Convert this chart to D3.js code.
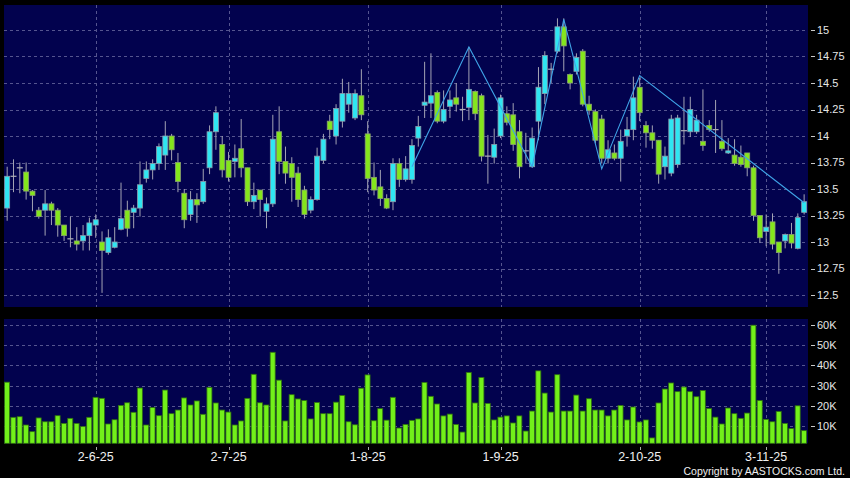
<!DOCTYPE html>
<html>
<head>
<meta charset="utf-8">
<script src="https://cdn.jsdelivr.net/npm/d3@7"></script>
<style>
body { margin:0; background:#000; }
text { font-family: "Liberation Sans", Arial, sans-serif; }
</style>
</head>
<body>
<div id="vis"></div>
<script>
// daily OHLC, one entry per trading day (13-5-25 .. 11-11-25)
var open = [13.32,13.62,13.70,13.66,13.48,13.30,13.30,13.36,13.30,13.16,
	13.03,13.01,13.01,13.06,13.16,13.00,12.90,12.95,13.12,13.30,
	13.28,13.32,13.60,13.68,13.74,13.82,14.00,13.75,13.46,13.26,
	13.40,13.38,13.70,14.04,13.92,13.77,13.76,13.88,13.70,13.38,
	13.49,13.29,13.36,14.04,13.76,13.74,13.65,13.49,13.30,13.40,
	13.77,14.14,14.00,14.14,14.30,14.17,14.38,14.02,13.61,13.52,
	13.41,13.38,13.74,13.59,13.59,13.98,14.29,14.31,14.41,14.14,
	14.28,14.36,14.25,14.27,14.42,14.38,13.81,13.80,14.00,14.21,
	14.20,14.04,13.86,13.71,14.14,14.40,14.63,14.80,15.03,14.58,
	14.61,14.80,14.30,14.23,14.16,13.79,13.84,13.79,14.00,14.06,
	14.46,14.10,14.03,13.96,13.71,13.65,13.73,14.05,14.04,14.04,
	13.95,14.10,14.06,13.95,13.84,13.82,13.80,13.84,13.70,13.25,
	13.10,13.19,13.00,13.01,13.07,12.94,13.28];
var high = [13.71,13.78,13.75,13.75,13.49,13.33,13.49,13.38,13.32,13.16,
	13.24,13.14,13.16,13.23,13.26,13.10,13.12,13.14,13.56,13.39,
	13.35,13.76,13.76,13.78,13.93,14.14,14.02,13.84,13.50,13.48,
	13.46,13.69,14.10,14.28,14.00,13.85,13.92,14.16,13.70,13.56,
	13.49,13.42,14.20,14.28,13.90,13.80,13.71,13.53,13.43,13.89,
	14.02,14.20,14.30,14.54,14.51,14.44,14.63,14.14,13.75,13.68,
	13.45,13.79,13.79,13.81,13.97,14.19,14.70,14.78,14.43,14.43,
	14.43,14.50,14.37,14.84,14.43,14.40,14.01,14.07,14.39,14.28,
	14.31,14.15,14.03,14.08,14.65,14.80,14.69,15.11,15.11,14.59,
	14.78,14.82,14.38,14.25,14.20,13.96,13.92,14.06,14.18,14.56,
	14.55,14.14,14.10,13.96,13.90,14.20,14.20,14.37,14.37,14.20,
	14.44,14.15,14.34,14.15,13.98,13.97,13.91,13.84,13.72,13.25,
	13.26,13.27,13.00,13.08,13.18,13.27,13.45];
var low = [13.20,13.47,13.46,13.40,13.29,13.22,13.06,13.16,13.05,13.01,
	12.95,12.92,12.92,12.92,13.04,12.52,12.88,12.94,13.11,13.05,
	13.13,13.24,13.56,13.59,13.68,13.68,13.77,13.47,13.13,13.20,
	13.18,13.36,13.64,13.87,13.61,13.57,13.61,13.61,13.34,13.31,
	13.24,13.13,13.33,13.64,13.55,13.38,13.33,13.22,13.27,13.39,
	13.74,13.97,13.92,14.08,14.22,14.15,14.15,13.47,13.44,13.34,
	13.31,13.30,13.52,13.57,13.55,13.90,14.17,14.17,14.12,14.12,
	14.17,14.23,14.14,14.15,14.15,13.76,13.55,13.74,13.98,14.10,
	13.86,13.60,13.74,13.70,13.96,14.30,14.50,14.78,14.61,14.44,
	14.58,14.28,14.20,13.93,13.74,13.74,13.77,13.57,13.90,13.96,
	14.14,13.89,13.88,13.55,13.59,13.62,13.70,13.92,13.99,14.02,
	13.86,14.04,13.84,13.86,13.83,13.72,13.71,13.62,13.20,12.99,
	12.96,12.93,12.70,12.94,12.94,12.93,13.26];
var close = [13.62,13.62,13.70,13.48,13.44,13.24,13.36,13.30,13.16,13.06,
	13.03,12.98,13.06,13.18,13.21,12.92,13.04,13.00,13.22,13.13,
	13.32,13.54,13.68,13.74,13.90,14.00,13.87,13.57,13.21,13.40,
	13.35,13.57,14.04,14.22,13.68,13.61,13.79,13.70,13.38,13.44,
	13.40,13.36,13.97,13.76,13.65,13.61,13.40,13.26,13.40,13.81,
	13.97,14.06,14.26,14.40,14.40,14.40,14.20,13.60,13.49,13.41,
	13.32,13.74,13.59,13.69,13.91,14.09,14.32,14.38,14.14,14.25,
	14.34,14.30,14.25,14.44,14.21,13.81,13.81,13.92,14.36,14.13,
	13.92,13.71,13.86,13.98,14.46,14.76,14.63,15.03,14.85,14.50,
	14.74,14.30,14.24,13.96,13.79,13.87,13.79,13.95,14.06,14.36,
	14.22,14.03,13.96,13.64,13.81,14.16,14.17,14.05,14.25,14.15,
	13.91,14.06,14.06,13.88,13.86,13.74,13.73,13.70,13.25,13.04,
	13.14,12.98,12.90,13.07,12.99,13.23,13.38];
// volume in thousands of shares
var volK = [31.7,14.3,14.6,10.5,7.2,14.0,12.1,12.1,15.1,11.3,
	13.8,11.3,9.7,14.3,24.2,23.7,11.0,13.1,20.2,21.5,
	16.8,28.8,10.5,19.1,15.1,27.8,16.1,17.9,23.9,20.4,
	22.4,15.8,29.1,21.4,17.9,16.9,10.5,12.5,23.7,35.6,
	21.5,20.4,46.5,32.7,12.5,25.5,23.4,22.6,13.5,21.6,
	16.1,16.1,21.8,25.1,12.1,10.6,28.7,35.3,12.6,18.6,
	12.9,24.2,9.0,10.8,12.8,13.5,31.6,24.7,20.9,15.0,
	15.9,10.8,7.0,36.5,21.4,34.0,21.2,13.0,14.4,15.0,
	11.5,15.0,7.5,17.4,37.3,26.3,16.9,35.4,17.4,17.4,
	25.3,17.4,23.5,17.9,17.9,15.0,17.9,20.2,13.0,19.4,
	12.0,13.0,4.1,21.4,28.3,31.3,27.0,29.3,27.0,24.5,
	27.6,18.6,14.4,11.0,18.9,16.1,13.8,16.4,59.9,22.6,
	13.3,12.1,17.2,11.3,8.7,20.0,7.7];

// month ticks (index of first trading day of the month)
var dateIdx = [14, 35, 57, 78, 100, 120];
var dateLabels = ["2-6-25", "2-7-25", "1-8-25", "1-9-25", "2-10-25", "3-11-25"];

var priceTicks = [12.5, 12.75, 13, 13.25, 13.5, 13.75, 14, 14.25, 14.5, 14.75, 15];
var volTicks = [10, 20, 30, 40, 50, 60];

// zigzag pivots
var zzIdx = [64, 73, 83, 88, 94, 100, 126];
var zzPrice = [13.71, 14.84, 13.71, 15.10, 13.69, 14.57, 13.37];

// Layout Settings
var width = 850, height = 478;
var plotL = 4, plotR = 808;
var priceTop = 5, priceBot = 307;
var volTop = 319, volBot = 443.3;

var svg = d3.select("#vis")
	.append("svg")
	.attr("width", width)
	.attr("height", height)
	.style("background", "#000");

var N = open.length;
var x = d3.scaleBand()
	.domain(d3.range(N))
	.range([plotL, 807.3]);
var step = x.step();
function cx(i) { return x(i) + step / 2; }

var y = d3.scaleLinear().domain([12.5, 15]).range([295, 30]);
var yv = d3.scaleLinear().domain([10, 60]).range([426, 325]);

// panels
svg.append("rect").attr("x", plotL).attr("y", priceTop)
	.attr("width", plotR - plotL).attr("height", priceBot - priceTop)
	.attr("fill", "#02024e");
svg.append("rect").attr("x", plotL).attr("y", volTop)
	.attr("width", plotR - plotL).attr("height", volBot - volTop)
	.attr("fill", "#02024e");

var gridColor = "#55558f";

// horizontal grid
svg.append("g").selectAll("line")
	.data(priceTicks).enter().append("line")
	.attr("x1", plotL).attr("x2", plotR)
	.attr("y1", function(d) { return Math.round(y(d)) + 0.5; })
	.attr("y2", function(d) { return Math.round(y(d)) + 0.5; })
	.attr("stroke", gridColor).attr("stroke-dasharray", "3,3");
svg.append("g").selectAll("line")
	.data(volTicks).enter().append("line")
	.attr("x1", plotL).attr("x2", plotR)
	.attr("y1", function(d) { return Math.round(yv(d)) + 0.5; })
	.attr("y2", function(d) { return Math.round(yv(d)) + 0.5; })
	.attr("stroke", gridColor).attr("stroke-dasharray", "3,3");

// vertical grid, both panels
var vg = svg.append("g");
[[priceTop, priceBot], [volTop, volBot]].forEach(function(p) {
	vg.selectAll(null)
		.data(dateIdx).enter().append("line")
		.attr("x1", function(d) { return Math.round(cx(d)) + 0.5; })
		.attr("x2", function(d) { return Math.round(cx(d)) + 0.5; })
		.attr("y1", p[0]).attr("y2", p[1])
		.attr("stroke", gridColor).attr("stroke-dasharray", "3,3");
});

// volume bars
svg.append("g").selectAll("rect")
	.data(volK).enter().append("rect")
	.attr("x", function(d, i) { return x(i) + 0.5; })
	.attr("width", step - 1.3)
	.attr("y", function(d) { return yv(d); })
	.attr("height", function(d) { return volBot - yv(d); })
	.attr("fill", "#72f01a")
	.attr("stroke", "#2f7010")
	.attr("stroke-width", 0.8);

// candles
var bodyW = 5;
var candle = svg.append("g").selectAll("g")
	.data(d3.range(N)).enter().append("g");

candle.append("line")
	.attr("x1", cx).attr("x2", cx)
	.attr("y1", function(i) { return y(high[i]); })
	.attr("y2", function(i) { return y(low[i]); })
	.attr("stroke", "#a4a4b4").attr("stroke-width", 1);

candle.filter(function(i) { return open[i] != close[i]; })
	.append("rect")
	.attr("x", function(i) { return cx(i) - bodyW / 2; })
	.attr("width", bodyW)
	.attr("y", function(i) { return y(Math.max(open[i], close[i])); })
	.attr("height", function(i) { return Math.max(1, Math.abs(y(open[i]) - y(close[i]))); })
	.attr("fill", function(i) { return close[i] > open[i] ? "#2fe6f2" : "#84e61c"; })
	.attr("stroke", function(i) { return close[i] > open[i] ? "#8a9cac" : "#8aa070"; })
	.attr("stroke-width", 0.8);

candle.filter(function(i) { return open[i] == close[i]; })
	.append("line")
	.attr("x1", function(i) { return cx(i) - 3; })
	.attr("x2", function(i) { return cx(i) + 3; })
	.attr("y1", function(i) { return y(close[i]); })
	.attr("y2", function(i) { return y(close[i]); })
	.attr("stroke", "#b0b0b8").attr("stroke-width", 1.2);

// zigzag line
var zz = d3.line()
	.x(function(d, k) { return cx(zzIdx[k]); })
	.y(function(d) { return y(d); });
svg.append("path")
	.attr("d", zz(zzPrice))
	.attr("fill", "none")
	.attr("stroke", "#3fa3e6")
	.attr("stroke-width", 1.1);

// right axis labels
var ax = svg.append("g").attr("fill", "#e6e6e6").style("font-size", "11px");
ax.selectAll(".pt")
	.data(priceTicks).enter().append("text")
	.attr("x", 817).attr("y", function(d) { return y(d); })
	.attr("dy", "0.36em")
	.text(function(d) { return d; });
ax.selectAll(".vt")
	.data(volTicks).enter().append("text")
	.attr("x", 817).attr("y", function(d) { return yv(d); })
	.attr("dy", "0.36em")
	.text(function(d) { return d + "K"; });
svg.append("g").selectAll("line")
	.data(priceTicks.map(y).concat(volTicks.map(yv))).enter().append("line")
	.attr("x1", 811).attr("x2", 815)
	.attr("y1", function(d) { return Math.round(d) + 0.5; })
	.attr("y2", function(d) { return Math.round(d) + 0.5; })
	.attr("stroke", "#c8c8c8");

// date axis
svg.append("g").selectAll("line")
	.data(dateIdx).enter().append("line")
	.attr("x1", function(d) { return Math.round(cx(d)) + 0.5; })
	.attr("x2", function(d) { return Math.round(cx(d)) + 0.5; })
	.attr("y1", 447).attr("y2", 450)
	.attr("stroke", "#aaa");
svg.append("g").selectAll("text")
	.data(dateIdx).enter().append("text")
	.attr("x", cx).attr("y", 461)
	.attr("text-anchor", "middle")
	.attr("fill", "#f0f0f0")
	.style("font-size", "12.5px")
	.text(function(d, k) { return dateLabels[k]; });

svg.append("text")
	.attr("x", 845).attr("y", 475)
	.attr("text-anchor", "end")
	.attr("fill", "#f0f0f0")
	.style("font-size", "10.5px")
	.text("Copyright by AASTOCKS.com Ltd.");
</script>
</body>
</html>
